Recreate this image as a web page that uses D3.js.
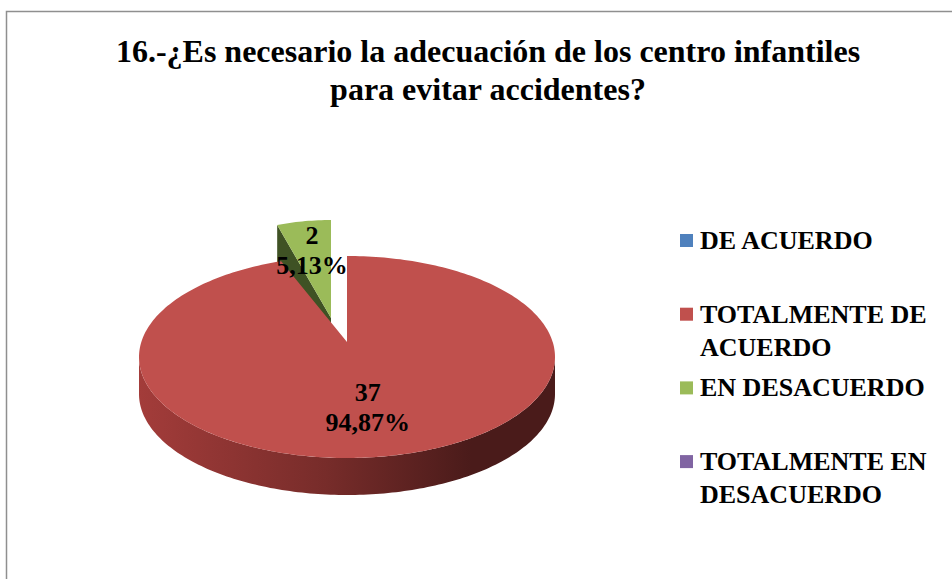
<!DOCTYPE html>
<html><head><meta charset="utf-8">
<script src="https://cdn.jsdelivr.net/npm/d3@7"></script>
<style>html,body{margin:0;padding:0;background:#fff;overflow:hidden}</style>
</head><body>
<script>
const categories = ["DE ACUERDO", "TOTALMENTE DE ACUERDO", "EN DESACUERDO", "TOTALMENTE EN DESACUERDO"];
const legendLines = [["DE ACUERDO"], ["TOTALMENTE DE", "ACUERDO"], ["EN DESACUERDO"], ["TOTALMENTE EN", "DESACUERDO"]];
const values = [0, 37, 2, 0];
const percentLabels = ["0,00%", "94,87%", "5,13%", "0,00%"];
const titleLines = ["16.-¿Es necesario la adecuación de los centro infantiles", "para evitar accidentes?"];

const colors = ["#4F81BD", "#C0504D", "#9BBB59", "#8064A2"];
const faceColors = ["#2f4d71", "#5a2220", "#3f5224", "#4c3c61"];

const W = 952, H = 579;
const FONT = "'Liberation Serif','Times New Roman',serif";
const svg = d3.select("body").append("svg").attr("width", W).attr("height", H)
  .attr("font-family", FONT);

// border
svg.append("rect").attr("x", 6.5).attr("y", 11.5).attr("width", 1200).attr("height", 1200)
  .attr("fill", "none").attr("stroke", "#8f8f8f").attr("stroke-width", 1.5);

// title
const title = svg.append("text").attr("text-anchor", "middle").attr("font-weight", "bold")
  .attr("font-family", FONT).attr("font-size", 32).attr("fill", "#000");
titleLines.forEach((t, i) => title.append("tspan").attr("x", 488).attr("y", 62 + i * 38).text(t));

// pie
const pie = d3.pie().sort(null).value(d => d.v).startAngle(0).endAngle(2 * Math.PI);
const arcs = pie(values.map((v, i) => ({v, i})));

const defs = svg.append("defs");
colors.forEach((c, i) => {
  const base = d3.hsl(c);
  const g = defs.append("linearGradient").attr("id", "side" + i)
    .attr("gradientUnits", "userSpaceOnUse").attr("x1", 139).attr("x2", 555).attr("y1", 0).attr("y2", 0);
  const mk = k => { const h = d3.hsl(base); h.l = base.l * k; return h.formatHex(); };
  g.append("stop").attr("offset", 0).attr("stop-color", mk(0.82));
  g.append("stop").attr("offset", 0.45).attr("stop-color", mk(0.6));
  g.append("stop").attr("offset", 0.8).attr("stop-color", mk(0.37));
  g.append("stop").attr("offset", 1).attr("stop-color", mk(0.37));
});

// geometry (styling): normal and exploded slice
const geomNormal = {cx: 347, cy: 357, rx: 208, ry: 101, ax: 347, ay: 342, depth: 37, lfx: 0.62, lfy: 0.5};
const geomExpl = {cx: 331, cy: 318, rx: 170, ry: 98, ax: 331, ay: 318, depth: 40, lfx: 0.7, lfy: 0.7};
const exploded = new Set([2]);

function rim(g, t, dz = 0) { return [g.cx + g.rx * Math.sin(t), g.cy - g.ry * Math.cos(t) + dz]; }
function sample(g, a0, a1, dz = 0) {
  const n = Math.max(2, Math.ceil(Math.abs(a1 - a0) / 0.02));
  const pts = [];
  for (let k = 0; k <= n; k++) pts.push(rim(g, a0 + (a1 - a0) * k / n, dz));
  return pts;
}
const line = d3.line();

const order = arcs.filter(a => a.data.v > 0).sort((a, b) => (exploded.has(b.data.i) ? 1 : 0) - (exploded.has(a.data.i) ? 1 : 0));
const pieG = svg.append("g");
order.forEach(a => {
  const i = a.data.i;
  const g = exploded.has(i) ? geomExpl : geomNormal;
  const s = a.startAngle, e = a.endAngle;
  const grp = pieG.append("g");
  if (Math.sin(s) < -1e-6) {
    const p = rim(g, s), pb = rim(g, s, g.depth);
    grp.append("path").attr("d", line([[g.ax, g.ay], p, pb, [g.ax, g.ay + g.depth]]) + "Z").attr("fill", faceColors[i]);
  }
  if (Math.sin(e) > 1e-6) {
    const p = rim(g, e), pb = rim(g, e, g.depth);
    grp.append("path").attr("d", line([[g.ax, g.ay], p, pb, [g.ax, g.ay + g.depth]]) + "Z").attr("fill", faceColors[i]);
  }
  const v0 = Math.max(s, Math.PI / 2), v1 = Math.min(e, 3 * Math.PI / 2);
  if (v1 > v0) {
    const top = sample(g, v0, v1), bot = sample(g, v1, v0, g.depth);
    grp.append("path").attr("d", line(top.concat(bot)) + "Z").attr("fill", "url(#side" + i + ")");
  }
  const pts = [[g.ax, g.ay]].concat(sample(g, s, e));
  grp.append("path").attr("d", line(pts) + "Z").attr("fill", colors[i]);
});

// labels
const lab = svg.append("g").attr("font-weight", "bold").attr("font-size", 26).attr("text-anchor", "middle").attr("fill", "#000");
arcs.filter(a => a.data.v > 0).forEach(a => {
  const i = a.data.i;
  const g = exploded.has(i) ? geomExpl : geomNormal;
  const m = (a.startAngle + a.endAngle) / 2;
  const x = g.cx + g.lfx * g.rx * Math.sin(m), y = g.cy - g.lfy * g.ry * Math.cos(m);
  const t = lab.append("text").attr("font-family", FONT);
  t.append("tspan").attr("x", x).attr("y", y - 6).text(values[i]);
  t.append("tspan").attr("x", x).attr("y", y + 24).text(percentLabels[i]);
});

// legend
const leg = svg.append("g");
categories.forEach((c, i) => {
  const by = 249 + i * 73.7;
  leg.append("rect").attr("x", 680).attr("y", by - 15).attr("width", 13).attr("height", 13).attr("fill", colors[i]);
  const t = leg.append("text").attr("font-family", FONT).attr("font-weight", "bold").attr("font-size", 26).attr("fill", "#000");
  legendLines[i].forEach((l, k) => t.append("tspan").attr("x", 700).attr("y", by + k * 33).text(l));
});
</script>
</body></html>
